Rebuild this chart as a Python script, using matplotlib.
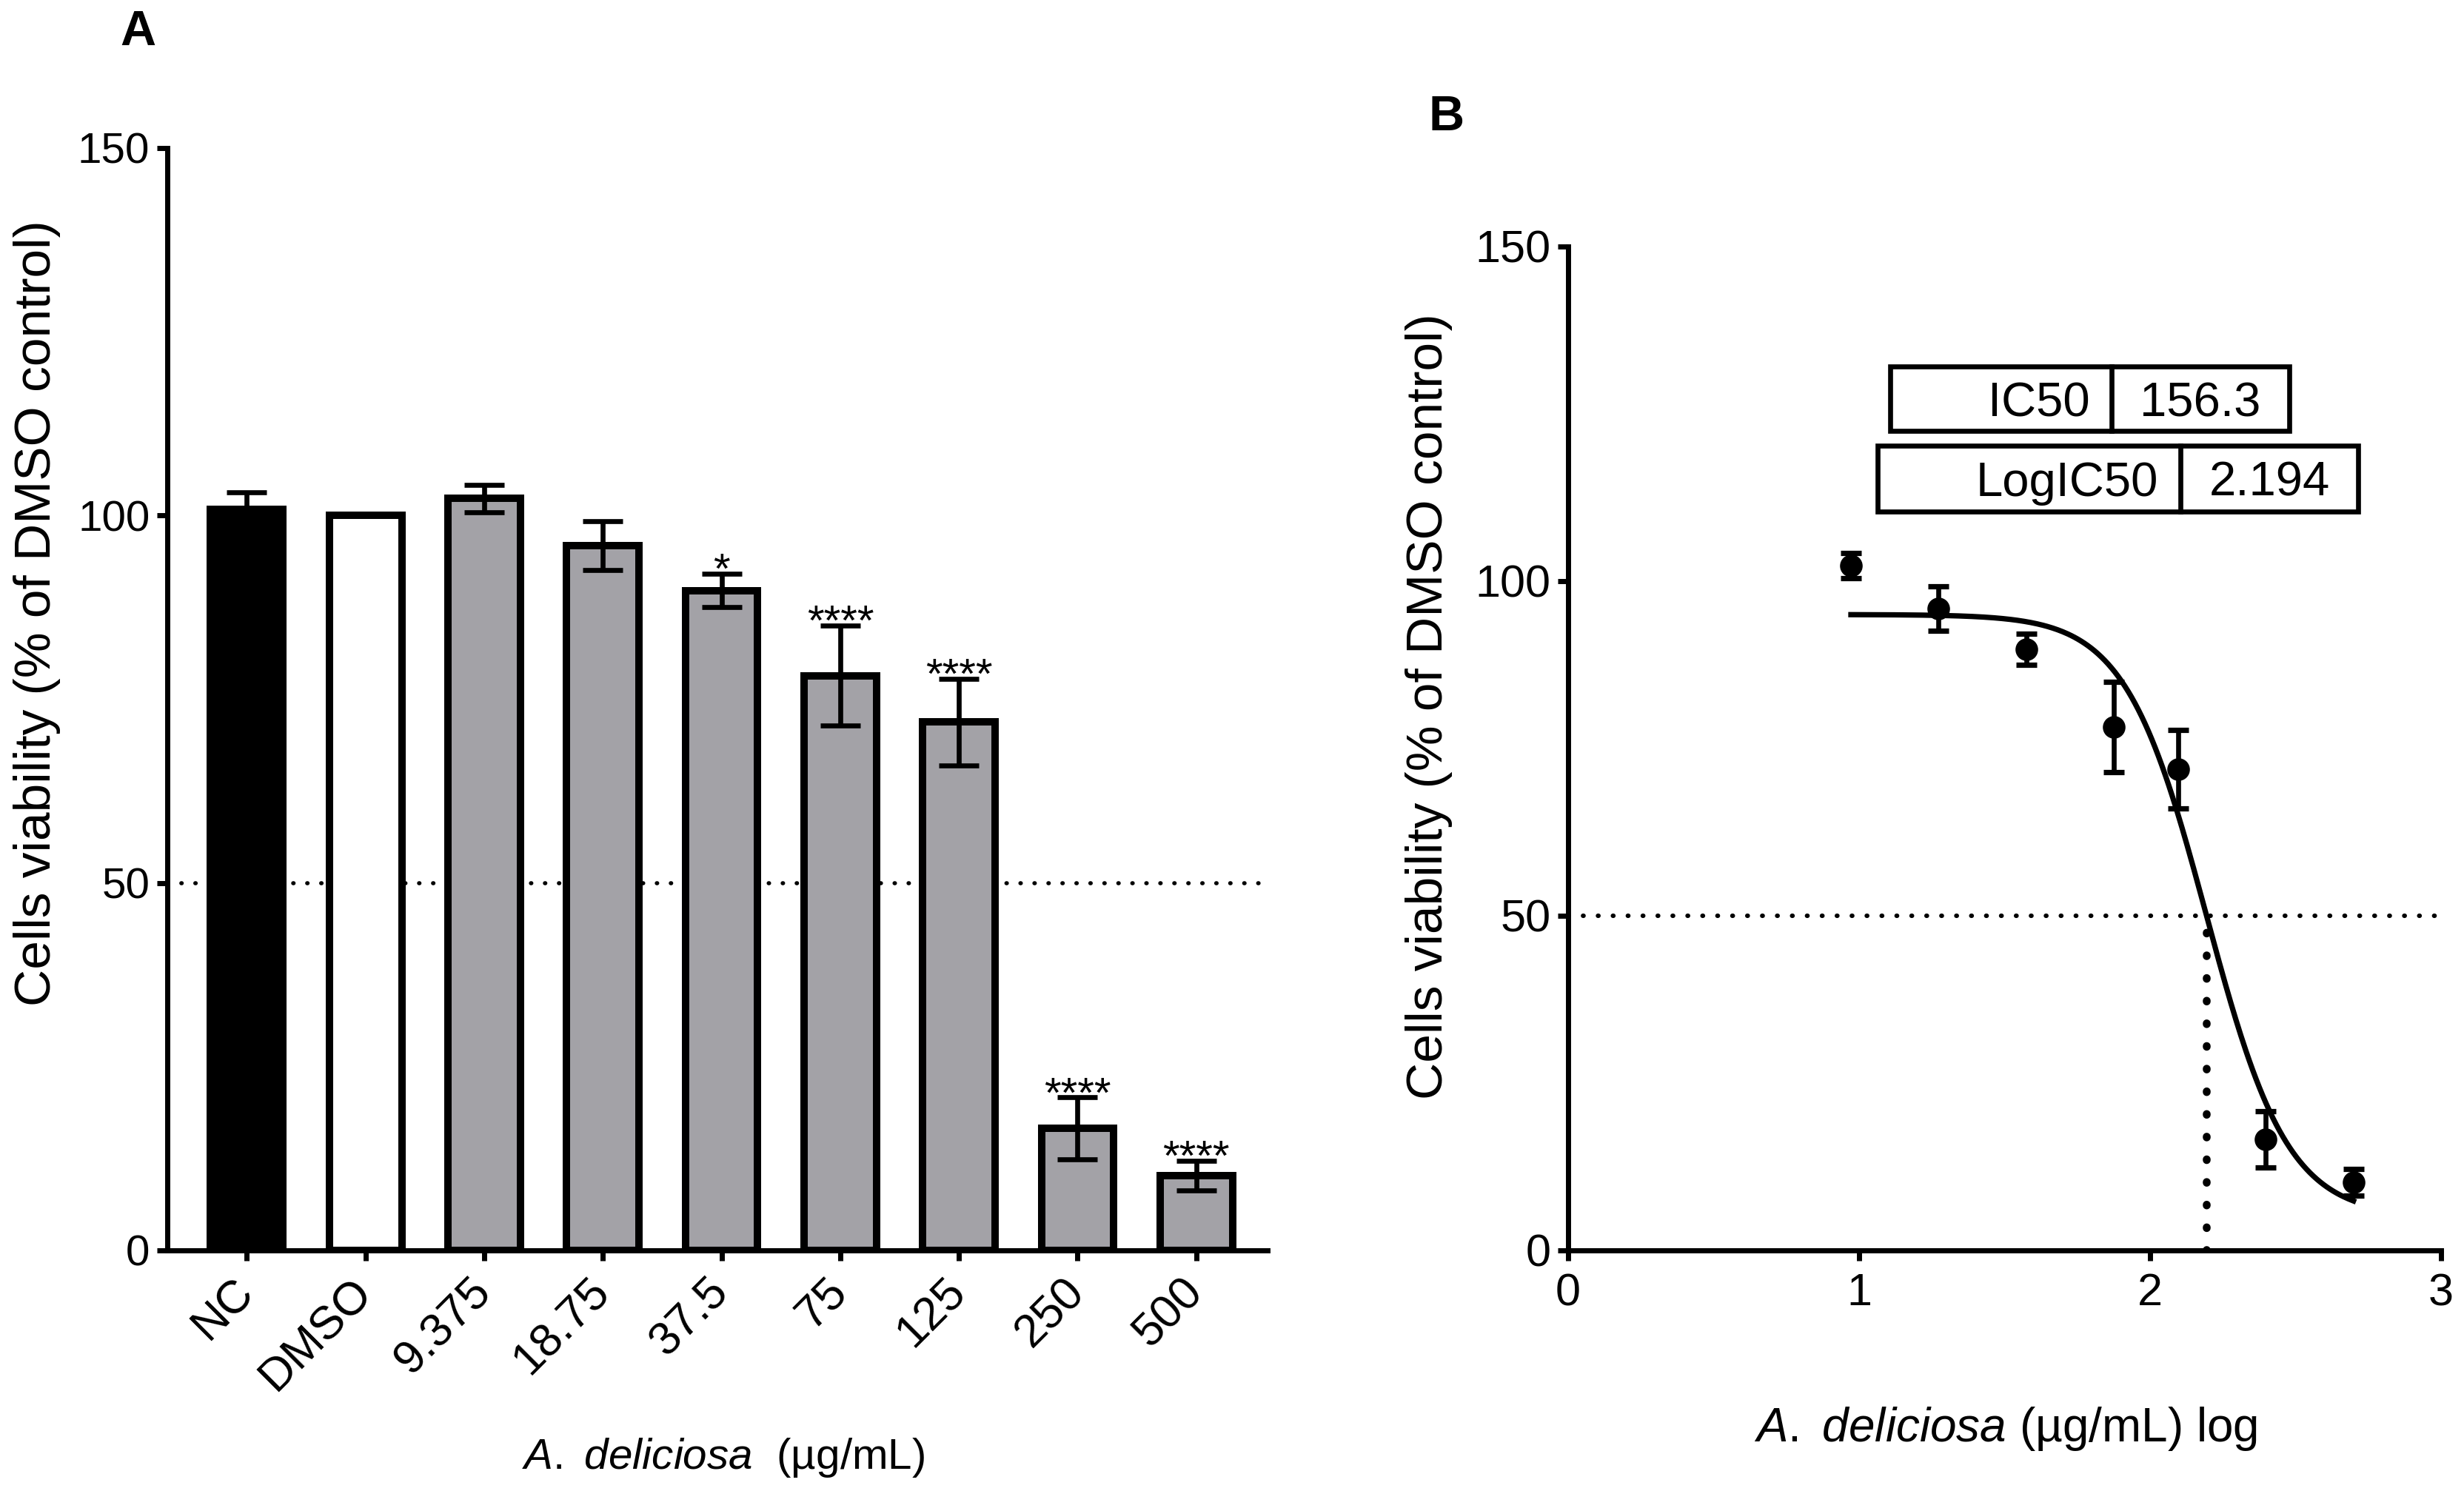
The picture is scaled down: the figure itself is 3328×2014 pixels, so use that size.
import numpy as np
import matplotlib
matplotlib.use("Agg")
import matplotlib.pyplot as plt
from matplotlib.patches import Rectangle

plt.rcParams['font.family'] = ['Liberation Sans', 'DejaVu Sans']
plt.rcParams['mathtext.fontset'] = 'custom'
plt.rcParams['mathtext.rm'] = 'Liberation Sans'
plt.rcParams['mathtext.it'] = 'Liberation Sans:italic'

# data
groups = ["NC", "DMSO", "9.375", "18.75", "37.5", "75", "125", "250", "500"]
viability = [100.8, 100.0, 102.3, 95.9, 89.8, 78.2, 71.9, 16.6, 10.2]
sd = [2.4, 0.0, 1.9, 3.3, 2.3, 6.8, 5.9, 4.2, 2.0]
stars = ["", "", "", "", "*", "****", "****", "****", "****"]
bar_colors = ["black", "white", "#a3a2a7", "#a3a2a7", "#a3a2a7",
              "#a3a2a7", "#a3a2a7", "#a3a2a7", "#a3a2a7"]

conc = [9.375, 18.75, 37.5, 75, 125, 250, 500]   # ug/mL, panel B points
# 4PL fit shown in panel B
fit_top = 95.0
fit_bottom = 5.0
fit_logic50 = 2.194
fit_hill = -3.1
table_names = ["IC50", "LogIC50"]
table_values = ["156.3", "2.194"]

fig = plt.figure(figsize=(16.64, 10.07), dpi=200)

# ---------- panel A ----------
axA = fig.add_axes([0.0679, 0.1614, 0.4465, 0.7393])
x = np.arange(len(groups))
axA.axhline(50, color="black", lw=2.0, ls=(0, (0.1, 3.3)),
            dash_capstyle="round", zorder=0)
axA.bar(x, viability, width=0.61, color=bar_colors, edgecolor="black",
        linewidth=3.6, zorder=2)
has_err = np.array(sd) > 0
axA.errorbar(x[has_err], np.array(viability)[has_err], yerr=np.array(sd)[has_err],
             fmt="none", ecolor="black", elinewidth=2.4, capsize=9.7,
             capthick=2.4, zorder=3)
for i in range(len(groups)):
    if stars[i]:
        axA.text(x[i], viability[i] + sd[i] - 1.3, stars[i], ha="center",
                 va="baseline", fontsize=21)

axA.set_xlim(-0.67, 8.6)
axA.set_ylim(0, 150)
axA.set_yticks([0, 50, 100, 150])
axA.set_xticks(x)
axA.set_xticklabels(groups, rotation=45, ha="right", va="center",
                    rotation_mode="anchor")
axA.spines[["top", "right"]].set_visible(False)
for s in ["left", "bottom"]:
    axA.spines[s].set_linewidth(2.5)
axA.tick_params(direction="out", length=5, width=2.5, labelsize=21)
axA.tick_params(axis="x", pad=12, labelsize=22.5)

fig.text(0.2936, 0.015, r"$\it{A.\ deliciosa}$  (µg/mL)", ha="center",
         va="baseline", fontsize=21)
fig.text(0.015, 0.589, "Cells viability (% of DMSO control)", rotation=90,
         ha="center", va="center", fontsize=25)
fig.text(0.056, 0.978, "A", ha="center", va="center", fontsize=24,
         fontweight="bold")

# ---------- panel B ----------
axB = fig.add_axes([0.6364, 0.1614, 0.3543, 0.6733])
logx = np.log10(conc)
yB = viability[2:]
eB = sd[2:]

axB.axhline(50, color="black", lw=2.2, ls=(0, (0.1, 3.2)),
            dash_capstyle="round", zorder=0)
axB.plot([fit_logic50, fit_logic50], [0, 50], color="black", lw=3.8,
         ls=(0, (0.1, 2.8)), dash_capstyle="round", zorder=1)

xc = np.linspace(logx[0], logx[-1], 300)
yc = fit_bottom + (fit_top - fit_bottom) / (1 + 10 ** ((fit_logic50 - xc) * fit_hill))
axB.plot(xc, yc, color="black", lw=2.6, zorder=2)

axB.errorbar(logx, yB, yerr=eB, fmt="o", color="black", ms=10,
             elinewidth=2.4, capsize=5.2, capthick=2.6, zorder=3)

axB.set_xlim(0, 3)
axB.set_ylim(0, 150)
axB.set_xticks([0, 1, 2, 3])
axB.set_yticks([0, 50, 100, 150])
axB.spines[["top", "right"]].set_visible(False)
for s in ["left", "bottom"]:
    axB.spines[s].set_linewidth(2.5)
axB.tick_params(direction="out", length=5, width=2.5, labelsize=22)
axB.tick_params(axis="x", pad=6)

fig.text(0.814, 0.0333, r"$\it{A.\ deliciosa}$ (µg/mL) log", ha="center",
         va="baseline", fontsize=23)
fig.text(0.580, 0.526, "Cells viability (% of DMSO control)", rotation=90,
         ha="center", va="center", fontsize=25)
fig.text(0.587, 0.921, "B", ha="center", va="center", fontsize=24,
         fontweight="bold")

# IC50 result table
rows = [(0.767, 0.857, 0.929, 0.711, 0.754),
        (0.762, 0.885, 0.957, 0.657, 0.701)]
for (x0, xd, x1, y0, y1), name, val in zip(rows, table_names, table_values):
    fig.patches.append(Rectangle((x0, y0), x1 - x0, y1 - y0, fill=False,
                                 edgecolor="black", lw=2.4,
                                 transform=fig.transFigure, figure=fig))
    fig.lines.append(plt.Line2D([xd, xd], [y0, y1], color="black", lw=2.4,
                                transform=fig.transFigure, figure=fig))
    ym = (y0 + y1) / 2
    fig.text(xd - 0.009, ym, name, ha="right", va="center_baseline", fontsize=23.5)
    fig.text((xd + x1) / 2, ym, val, ha="center", va="center_baseline", fontsize=23.5)

fig.savefig("out.png", dpi=200)
